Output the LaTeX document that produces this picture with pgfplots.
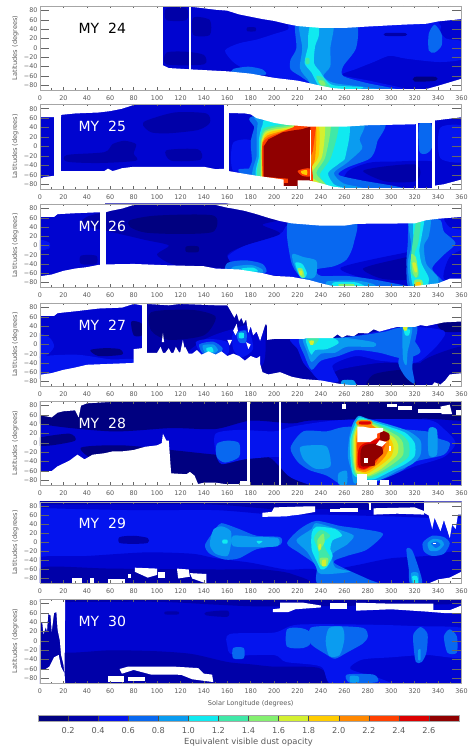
\documentclass[border=0pt]{standalone}
\usepackage{fontspec}
\setmainfont{DejaVu Sans}
\usepackage{pgfplots}
\pgfplotsset{compat=1.18}
\definecolor{L00}{HTML}{000080}
\definecolor{L0}{HTML}{0000A8}
\definecolor{L1}{HTML}{0004D0}
\definecolor{L2}{HTML}{0414EE}
\definecolor{L3}{HTML}{0868F0}
\definecolor{L4}{HTML}{0A9CF0}
\definecolor{L5}{HTML}{10EAF0}
\definecolor{L6}{HTML}{40E8A8}
\definecolor{L7}{HTML}{84F070}
\definecolor{L8}{HTML}{D4F030}
\definecolor{L9}{HTML}{FFCC00}
\definecolor{L10}{HTML}{FF8800}
\definecolor{L11}{HTML}{FF4000}
\definecolor{L12}{HTML}{DC0000}
\definecolor{L13}{HTML}{900000}
\definecolor{txt}{HTML}{5A5A5A}
\newcommand{\Q}[2]{\addplot[draw=none,fill=#1,forget plot,smooth cycle,tension=0.45] coordinates {#2};}
\newcommand{\W}[1]{\addplot[draw=none,fill=white,forget plot] coordinates {#1} --cycle;}
\newcommand{\R}[5]{\addplot[draw=none,fill=#1,forget plot] coordinates {(#2,#4)(#3,#4)(#3,#5)(#2,#5)} --cycle;}
\pgfplotsset{panel/.style={scale only axis,width=421.5pt,xmin=0,xmax=360,ymin=-90,ymax=90,axis on top,
 anchor=south west,axis line style={gray!70,line width=0.8pt},
 xtick={0,20,...,360},xticklabels={0,20,40,60,80,100,120,140,160,180,200,220,240,260,280,300,320,340,360},
 ytick={-80,-60,...,80},yticklabels={−80,−60,−40,−20,0,20,40,60,80},
 minor x tick num=1,
 tick align=inside,tick style={color=gray!80!black,line width=0.5pt},
 xtick style={/pgfplots/major tick length=2.5pt},minor tick length=1.5pt,
 ytick style={/pgfplots/major tick length=9pt},
 tick label style={font=\fontsize{6.4}{7}\selectfont,text=txt},
 xticklabel style={yshift=-2.5pt},yticklabel style={xshift=1pt},
 ylabel={Latitudes (degrees)},ylabel style={font=\fontsize{6.6}{7}\selectfont,text=txt,at={(axis description cs:0,0.5)},yshift=18pt,anchor=south},
 clip=true}}
\newcommand{\MY}[3]{\node[anchor=west,font=\fontsize{14}{15}\selectfont,text=#2] at (axis cs:30,#1) {#3}}
\begin{document}
\begin{tikzpicture}[x=1pt,y=1pt]
\useasboundingbox (0,0) rectangle (467,748);
% ------------- MY 24
\begin{axis}[panel,at={(40pt,658pt)},height=84pt]
\R{L1}{0}{360}{-90}{90}
\Q{L2}{(158,-5)(170,10)(185,18)(200,30)(212,40)(218,60)(300,70)(340,60)(342,35)(347,20)(360,15)(370,-5)(360,-25)(340,-30)(310,-22)(298,-17)(285,-30)(270,-45)(258,-58)(285,-72)(320,-95)(250,-95)(220,-72)(200,-66)(190,-52)(175,-45)(165,-30)}
\Q{L3}{(165,-45)(178,-40)(190,-46)(192,-58)(165,-56)}
\Q{L3}{(332,30)(337,50)(343,30)(343,5)(337,-10)(332,-5)}
\Q{L3}{(219,60)(245,65)(270,55)(270,0)(259,-39)(259,-60)(279,-75)(308,-92)(245,-95)(231,-75)(222,-60)(214,-46)(214,-25)(219,0)}
\Q{L4}{(222,60)(250,60)(248,0)(248,-39)(242,-60)(251,-75)(279,-84)(302,-95)(239,-95)(229,-68)(222,-43)(224,0)}
\Q{L5}{(231,50)(238,50)(238,25)(235,4)(234,-32)(239,-50)(244,-68)(251,-80)(276,-84)(268,-90)(251,-90)(239,-84)(232,-53)(226,-32)(229,4)(229,25)}
\Q{L6}{(236,-60)(241,-62)(245,-75)(248,-85)(242,-85)(238,-75)}
\Q{L6}{(227,-22)(230,-22)(230,-34)(227,-34)}
\Q{L7}{(238,-70)(242,-70)(244,-80)(240,-80)}
\Q{L0}{(108,85)(125,85)(125,60)(108,60)}
\Q{L0}{(108,-10)(125,-8)(140,-15)(140,-35)(108,-35)}
\Q{L0}{(131,65)(145,60)(145,28)(131,28)}
\Q{L0}{(177,44)(184,44)(184,36)(177,36)}
\Q{L0}{(295,32)(312,32)(312,26)(295,26)}
\Q{L1}{(259,-57)(275,-48)(299,-18)(322,-30)(360,-35)(370,-50)(360,-72)(340,-74)(320,-70)(290,-68)(275,-62)}
\Q{L00}{(320,-62)(338,-62)(338,-70)(320,-72)}
\Q{L1}{(340,65)(365,70)(365,20)(347,25)(345,38)}
\R{white}{0}{105}{-90}{90}
\R{white}{127}{129}{-90}{90}
\W{(105,91)(105,88)(130,88)(137,86)(150,82)(160,80)(170,72)(180,67)(190,62)(200,58)(210,52)(220,47)(240,43)(260,43)(280,46)(310,50)(330,52)(340,57)(360,62)(361,91)}
\W{(105,-91)(105,-37)(110,-43)(130,-46)(160,-50)(180,-55)(200,-64)(220,-70)(240,-81)(250,-86)(260,-88)(330,-88)(340,-81)(360,-66)(361,-91)}
\MY{42}{black}{MY~~24};
\end{axis}
% ------------- MY 25
\begin{axis}[panel,at={(40pt,559pt)},height=85pt]
\R{L1}{0}{161}{-90}{90}
\R{L1}{161}{200}{-90}{90}
\R{L2}{200}{360}{-90}{90}
\Q{L0}{(91,55)(115,72)(142,70)(145,50)(135,35)(110,28)(95,30)(88,45)}
\Q{L0}{(23,-18)(55,-12)(62,5)(72,12)(82,5)(80,-15)(82,-30)(50,-35)(23,-32)}
\Q{L0}{(108,-8)(135,-6)(137,-28)(112,-30)}
\Q{L2}{(165,8)(183,10)(188,-55)(165,-52)}
\Q{L3}{(170,-48)(185,-48)(187,-60)(172,-58)}
\Q{L1}{(262,-55)(280,-35)(300,-32)(340,-35)(340,-100)(262,-100)}
\Q{L0}{(276,-52)(295,-42)(320,-38)(325,-55)(320,-74)(295,-74)}
\R{L1}{337}{360}{-90}{90}
\Q{L2}{(342,40)(365,40)(365,-30)(342,-25)}
\Q{L3}{(324,48)(334,48)(335,0)(330,-15)(324,-10)}
\Q{L3}{(180,-72)(181,-30)(180,10)(183,40)(185,65)(290,60)(288,10)(285,-15)(280,-28)(262,-45)(255,-60)(275,-72)(310,-88)(290,-98)(240,-98)}
\Q{L4}{(184,-72)(185,-20)(185,20)(186,50)(188,65)(273,60)(273,15)(275,-5)(262,-35)(251,-56)(259,-78)(276,-88)(270,-98)(240,-98)}
\Q{L5}{(187,-72)(187,-20)(187,15)(190,45)(197,60)(261,60)(261,-20)(256,-35)(246,-56)(251,-80)(259,-88)(255,-98)(240,-98)}
\Q{L6}{(188,-72)(188,-20)(188,15)(191,38)(200,44)(215,50)(254,60)(249,-20)(239,-60)(246,-85)(250,-98)(240,-98)}
\Q{L7}{(188.5,-72)(188.5,-20)(189,15)(192,33)(200,40)(212,44)(247,60)(244,-20)(236,-56)(244,-80)(246,-98)(188.5,-80)}
\Q{L8}{(189,-72)(189,-20)(189.5,12)(192.5,30)(200,36)(215,42)(242,60)(241,-20)(231,-60)(239,-78)(238,-98)(189,-80)}
\Q{L9}{(189.5,-72)(189.5,-20)(190,10)(193,26)(200,33)(218,40)(237,60)(238,-20)(229,-50)(232,-70)(232,-98)(189.5,-80)}
\Q{L10}{(190,-72)(190,-20)(190,9)(194,23)(204,31)(218,39)(235,50)(235,-25)(231,-50)(231,-85)(190,-85)}
\Q{L11}{(190.4,-72)(190.4,8)(206,30)(222,45)(235,45)(235,30)(233,-10)(231,-25)(231,-85)(190.4,-85)}
\addplot[draw=none,fill=L13,forget plot] coordinates {(191,-64)(191,0)(195,15)(207,30)(216,34)(224,37)(231,42)(231,-75)(211,-68)} --cycle;
\R{L13}{212}{220}{-83}{-60}
\R{L13}{208}{214}{-83}{-78}
\Q{L11}{(220,-52)(226,-47)(231,-47)(231,-63)(224,-62)}
\Q{L9}{(223,-52)(228,-50)(228,-60)(224,-58)}
\Q{L11}{(217,38)(224,37)(226,44)(218,46)}
\R{white}{12}{18}{-90}{90}
\R{white}{157}{161}{-90}{90}
\R{white}{321}{323}{-90}{90}
\R{white}{335}{337}{-90}{90}
\R{white}{230.8}{231.6}{-70}{35}
\W{(-1,91)(-1,62)(12,62)(18,62)(18,67)(30,70)(50,72)(60,75)(70,80)(80,88)(157,88)(161,71)(175,70)(180,68)(185,60)(190,57)(200,50)(210,46)(230,42)(260,42)(280,45)(320,47)(323,50)(335,50)(337,55)(360,62)(361,91)}
\W{(-1,-91)(-1,-70)(3,-65)(12,-62)(18,-52)(55,-52)(58,-47)(62,-52)(65,-50)(70,-46)(80,-43)(140,-43)(150,-48)(158,-47)(161,-52)(175,-58)(185,-62)(208,-70)(208,-84)(220,-84)(220,-72)(230,-72)(240,-78)(250,-85)(260,-88)(335,-88)(337,-83)(345,-80)(360,-70)(361,-91)}
\MY{42}{white}{MY~~25};
\end{axis}
% ------------- MY 26
\begin{axis}[panel,at={(40pt,461pt)},height=83pt]
\R{L1}{0}{360}{-90}{90}
\Q{L2}{(0,12)(8,6)(8,-6)(0,-10)}
\Q{L2}{(160,-25)(175,0)(205,25)(212,45)(240,60)(370,65)(370,-100)(240,-100)(215,-70)(190,-62)(165,-55)}
\Q{L0}{(60,78)(40,62)(35,45)(60,30)(90,12)(110,0)(100,-20)(115,-42)(150,-48)(165,-50)(160,-20)(175,0)(205,25)(190,45)(205,60)(150,95)(60,95)}
\Q{L0}{(35,-22)(48,-22)(48,-40)(35,-40)}
\Q{L00}{(77,55)(100,65)(148,65)(148,30)(120,25)(90,28)(77,40)}
\Q{L00}{(125,-2)(135,-2)(135,-14)(125,-14)}
\Q{L1}{(257,-48)(311,-16)(318,-16)(318,-90)(302,-95)(279,-74)}
\Q{L0}{(276,-50)(305,-30)(316,-28)(316,-72)(292,-72)}
\Q{L1}{(345,65)(365,62)(365,35)(350,40)}
\Q{L1}{(350,-25)(365,-10)(365,-78)(345,-72)}
\Q{L3}{(160,-38)(175,-32)(190,-40)(192,-60)(160,-60)}
\Q{L4}{(165,-46)(180,-42)(190,-52)(188,-60)(165,-55)}
\Q{L5}{(172,-50)(182,-48)(186,-56)(175,-57)}
\Q{L3}{(214,60)(268,60)(268,5)(262,-30)(251,-45)(236,-52)(240,-66)(262,-66)(290,-76)(320,-95)(240,-95)(222,-67)(214,-30)}
\Q{L4}{(216,-18)(225,-25)(236,-33)(236,-62)(232,-72)(222,-66)(216,-35)}
\Q{L4}{(245,-78)(270,-76)(285,-84)(285,-95)(250,-95)}
\Q{L5}{(218,-38)(224,-40)(228,-60)(226,-70)(222,-68)}
\Q{L5}{(251,-80)(270,-80)(278,-92)(252,-92)}
\Q{L7}{(255,-84)(268,-84)(268,-92)(258,-92)}
\Q{L7}{(220,-50)(224,-50)(226,-68)(223,-68)}
\Q{L8}{(221,-55)(224,-55)(224,-64)(222,-64)}
\Q{L3}{(316,60)(330,60)(342,55)(345,30)(355,5)(345,-20)(335,-50)(345,-80)(345,-95)(316,-95)(313,-40)(314,0)}
\Q{L4}{(315,60)(333,60)(332,20)(328,0)(330,-40)(340,-70)(338,-95)(318,-95)(314,-40)(317,0)}
\Q{L5}{(319,60)(328,60)(326,20)(324,-10)(326,-40)(332,-70)(330,-90)(319,-90)(316,-40)(319,-5)}
\Q{L6}{(321,48)(325,48)(323,5)(320,-20)(324,-60)(322,-70)(317,-60)(317,-20)}
\Q{L7}{(317,-20)(321,-25)(323,-60)(321,-70)(318,-55)}
\Q{L8}{(318,-38)(321,-38)(322,-57)(320,-57)}
\Q{L7}{(320,-75)(326,-75)(327,-92)(320,-92)}
\Q{L9}{(321,-80)(325,-80)(325,-92)(321,-92)}
\R{white}{51}{56}{-90}{90}
\W{(-1,91)(-1,62)(12,62)(15,68)(30,70)(50,72)(56,72)(60,75)(70,80)(80,88)(150,88)(160,82)(165,80)(175,75)(185,68)(195,60)(205,53)(215,48)(240,43)(260,43)(270,47)(320,48)(330,55)(340,58)(360,62)(361,91)}
\W{(-1,-91)(-1,-67)(10,-63)(20,-55)(30,-50)(40,-47)(50,-42)(56,-41)(80,-40)(110,-43)(140,-45)(150,-50)(170,-52)(190,-60)(200,-66)(215,-68)(230,-75)(240,-82)(250,-88)(320,-88)(340,-82)(350,-72)(361,-72)(361,-91)}
\MY{42}{white}{MY~~26};
\end{axis}
% ------------- MY 27
\begin{axis}[panel,at={(40pt,362pt)},height=83pt]
\R{L1}{0}{91}{-90}{90}
\R{L0}{91}{360}{-90}{90}
\Q{L2}{(-5,25)(8,15)(12,-5)(5,-25)(-5,-25)}
\Q{L2}{(-5,-30)(30,-22)(60,-32)(80,-32)(85,-50)(40,-60)(-5,-75)}
\Q{L00}{(43,-12)(55,-8)(68,-10)(70,-22)(50,-25)}
\Q{L00}{(78,50)(87,45)(87,20)(80,20)}
\Q{L00}{(95,70)(130,75)(150,60)(140,20)(110,10)(95,30)}
\Q{L1}{(125,-25)(140,10)(160,30)(190,45)(190,-45)(160,-35)}
\Q{L2}{(133,5)(145,12)(160,5)(160,-22)(140,-25)}
\Q{L3}{(136,0)(148,6)(156,-8)(152,-22)(140,-22)}
\Q{L4}{(139,-2)(148,0)(152,-12)(148,-20)(141,-18)}
\Q{L5}{(142,-8)(147,-6)(148,-16)(143,-16)}
\Q{L2}{(165,25)(178,30)(182,-10)(172,-28)(165,-10)}
\Q{L3}{(168,25)(176,30)(176,5)(170,5)}
\Q{L5}{(170,25)(174,25)(174,14)(170,14)}
\Q{L1}{(215,14)(260,15)(310,40)(345,50)(365,52)(365,-30)(345,-20)(325,-40)(290,-40)(255,-55)(245,-75)(235,-70)(228,-40)(222,-10)}
\Q{L00}{(285,-65)(310,-55)(318,-70)(320,-95)(280,-95)}
\Q{L00}{(340,48)(365,52)(365,30)(345,28)}
\Q{L0}{(325,-40)(345,-15)(365,-5)(365,-60)(345,-85)(325,-88)}
\Q{L2}{(215,14)(260,15)(310,38)(345,30)(340,0)(325,-35)(315,-40)(290,-35)(270,-25)(250,-45)(255,-80)(240,-80)(232,-60)(225,-40)(220,-10)}
\Q{L3}{(222,14)(252,14)(275,20)(295,28)(310,35)(325,-15)(310,-30)(290,-18)(270,-12)(255,-25)(240,-35)(232,-55)(226,-25)}
\Q{L4}{(225,16)(248,14)(262,14)(285,5)(285,-5)(262,-5)(252,-18)(240,-20)(232,-38)(228,-15)}
\Q{L5}{(228,16)(250,14)(255,3)(245,-10)(235,-12)(232,-22)(229,-8)}
\Q{L6}{(228,13)(238,13)(236,3)(232,-2)}
\Q{L8}{(230,8)(234,8)(233,-1)(231,-1)}
\Q{L3}{(308,40)(322,40)(320,0)(318,-50)(320,-85)(312,-70)(306,-40)(310,0)}
\Q{L4}{(310,40)(318,40)(316,5)(314,-15)(313,-45)(310,-30)}
\Q{L5}{(311,32)(316,32)(315,20)(312,20)}
\Q{L8}{(310,38)(314,38)(313,30)(311,30)}
\Q{L4}{(258,-78)(268,-78)(270,-95)(258,-95)}
\R{white}{80}{91}{-90}{-10}
\R{white}{87}{91}{-90}{90}
\W{(-1,91)(-1,62)(12,62)(15,68)(30,72)(50,78)(70,80)(80,88)(87,85)(87,91)}
\W{(91,91)(91,88)(110,85)(120,88)(150,85)(160,85)(163,72)(166,58)(168,68)(170,50)(172,58)(174,45)(176,55)(178,25)(180,40)(182,20)(185,28)(188,8)(192,40)(193,45)(194,40)(194,10)(200,12)(225,12)(228,14)(250,14)(254,22)(258,15)(262,20)(268,18)(272,25)(280,24)(285,33)(290,28)(300,35)(305,38)(320,38)(325,42)(330,40)(345,48)(361,50)(361,91)}
\W{(-1,-91)(-1,-66)(10,-62)(20,-55)(30,-50)(40,-44)(80,-40)(80,-10)(87,-8)(91,-18)(100,-18)(103,-5)(105,-18)(107,-18)(110,-8)(112,-18)(114,-18)(116,-5)(119,-18)(124,-5)(127,-20)(130,-20)(134,-12)(138,-22)(144,-15)(150,-22)(155,-15)(160,-25)(165,-20)(170,-25)(175,-35)(180,-25)(185,-30)(188,-25)(188,-42)(190,-60)(195,-65)(205,-60)(215,-70)(225,-75)(240,-78)(255,-85)(265,-88)(335,-88)(337,-82)(342,-87)(346,-78)(350,-65)(361,-62)(361,-91)}
\W{(120,-15)(122,10)(124,-15)}
\W{(104,5)(105,25)(106,5)}
\W{(165,30)(167,20)(169,30)(168,45)}
\W{(176,5)(178,-10)(180,0)}
\W{(160,10)(162,-2)(164,10)}
\MY{42}{white}{MY~~27};
\end{axis}
% ------------- MY 28
\begin{axis}[panel,at={(40pt,263pt)},height=84pt]
\R{L1}{0}{360}{-90}{90}
\Q{L00}{(-5,95)(365,95)(365,50)(330,52)(265,50)(230,48)(215,42)(180,48)(150,30)(112,32)(60,25)(-5,45)}
\Q{L00}{(35,-10)(70,-5)(112,-15)(150,-25)(175,-28)(195,-30)(205,-52)(215,-75)(235,-95)(112,-95)(100,-60)(50,-40)}
\Q{L00}{(-3,10)(25,20)(30,5)(10,-5)(-3,-5)}
\Q{L2}{(150,20)(170,28)(200,25)(215,35)(240,45)(265,50)(330,50)(345,30)(355,0)(345,-30)(320,-50)(300,-70)(280,-95)(240,-95)(215,-75)(205,-50)(205,-30)(175,-35)(155,-45)(150,-20)}
\Q{L3}{(151,-2)(160,5)(170,0)(170,-30)(158,-42)(151,-30)}
\Q{L3}{(214,-10)(225,25)(245,25)(265,35)(330,25)(340,10)(350,0)(345,-25)(320,-40)(310,-58)(295,-75)(270,-90)(258,-90)(245,-70)(230,-58)(220,-40)}
\Q{L4}{(222,-10)(230,-5)(245,-8)(248,-50)(235,-55)(225,-35)}
\Q{L4}{(332,30)(339,28)(339,-25)(332,-25)}
\Q{L4}{(255,-65)(262,-60)(262,-88)(255,-88)}
\Q{L4}{(266,-60)(263,-30)(264,10)(267,40)(272,58)(280,52)(300,38)(315,25)(325,5)(325,-25)(318,-45)(305,-60)(290,-80)(275,-88)(268,-85)}
\Q{L5}{(267,-65)(265,-30)(265,10)(269,40)(273,55)(283,47)(298,35)(312,22)(320,0)(320,-28)(312,-45)(300,-60)(285,-78)(272,-75)}
\Q{L6}{(268,-65)(266,-30)(266,10)(270,38)(274,52)(285,44)(297,32)(309,18)(315,0)(315,-28)(307,-45)(296,-60)(282,-76)(272,-72)}
\Q{L7}{(269,-62)(267,-30)(267,10)(270,36)(275,48)(286,40)(296,28)(306,14)(310,0)(310,-26)(302,-44)(292,-60)(281,-72)(272,-70)}
\Q{L8}{(269.5,-60)(268,-30)(268,10)(271,34)(276,46)(287,36)(295,24)(303,10)(306,-5)(305,-25)(298,-42)(290,-58)(280,-70)(272,-66)}
\Q{L9}{(270,-58)(269,-30)(269,10)(271,32)(277,47)(287,32)(294,20)(300,6)(302,-10)(300,-28)(294,-42)(286,-56)(279,-66)(273,-62)}
\Q{L10}{(270,-56)(270,-30)(270,8)(272,30)(277,47)(288,30)(293,16)(298,4)(298,-12)(295,-28)(290,-42)(284,-54)(278,-62)(273,-60)}
\Q{L11}{(271,-52)(271,-20)(272,5)(290,26)(296,12)(294,-10)(291,-25)(287,-42)(282,-52)(276,-58)}
\Q{L12}{(272,-50)(272,-15)(276,-2)(290,10)(294,25)(298,15)(295,5)(292,-10)(289,-25)(285,-42)(278,-55)}
\Q{L13}{(274,-48)(274,-15)(278,-4)(290,-2)(293,-22)(286,-38)(286,-48)(278,-50)}
\Q{L13}{(291,26)(298,20)(298,6)(291,6)}
\Q{L10}{(271,48)(283,48)(283,38)(271,38)}
\Q{L12}{(273,46)(282,46)(282,40)(273,40)}
\W{(271,35)(276,35)(282,32)(293,32)(293,25)(288,20)(288,12)(282,2)(271,2)}
\W{(290,6)(296,2)(292,-8)(287,-4)}
\R{white}{298}{300}{-6}{-18}
\R{white}{277}{280}{-32}{-42}
\R{white}{177}{179}{-90}{90}
\R{white}{204}{206}{-90}{90}
\R{white}{171}{178}{-90}{-82}
\R{white}{296}{305}{77}{84}
\R{white}{306}{318}{70}{79}
\R{white}{323}{345}{65}{73}
\W{(342,78)(350,82)(352,62)(343,62)}
\R{white}{258}{261}{73}{84}
\R{white}{355}{360}{58}{70}
\R{white}{271}{279}{-90}{-67}
\R{white}{279}{288}{-90}{-80}
\R{white}{290}{298}{-90}{-80}
\W{(-1,91)(-1,60)(10,55)(15,65)(20,68)(30,70)(33,55)(35,80)(40,85)(60,88)(100,88)(112,90)}
\W{(-1,-91)(-1,-62)(10,-60)(15,-50)(25,-38)(32,-25)(38,-35)(45,-25)(55,-22)(62,-18)(70,-18)(80,-15)(90,-8)(100,-5)(104,0)(105,20)(108,5)(110,5)(112,-65)(125,-67)(128,-62)(132,-70)(135,-88)(140,-85)(150,-85)(158,-88)(171,-88)(171,-91)}
\MY{42}{white}{MY~~28};
\end{axis}
% ------------- MY 29
\begin{axis}[panel,at={(40pt,165pt)},height=81pt]
\R{L2}{0}{360}{-90}{90}
\Q{L1}{(-5,95)(365,95)(365,55)(300,58)(240,62)(200,62)(150,72)(80,72)(-5,78)}
\Q{L0}{(-5,95)(365,95)(365,72)(240,74)(200,74)(140,85)(-5,85)}
\Q{L1}{(-5,-35)(40,-30)(90,-22)(130,-25)(150,-35)(180,-45)(210,-60)(235,-60)(240,-95)(-5,-95)}
\Q{L0}{(3,-55)(60,-58)(150,-60)(190,-60)(215,-70)(220,-95)(3,-95)}
\Q{L0}{(68,12)(80,15)(92,10)(92,-1)(80,-3)(68,-1)}
\Q{L1}{(275,-48)(300,-35)(330,-30)(365,-20)(365,-95)(290,-95)(270,-70)(255,-60)}
\Q{L3}{(141,-5)(150,30)(155,43)(170,30)(185,15)(205,12)(205,-5)(185,-15)(170,-35)(158,-38)(145,-25)}
\Q{L4}{(145,-5)(148,28)(155,36)(163,25)(163,-5)(160,-30)(150,-25)}
\Q{L4}{(165,15)(185,12)(203,10)(203,-8)(185,-10)(165,-8)}
\Q{L5}{(156,6)(160,6)(160,-2)(156,-2)}
\Q{L5}{(185,3)(190,3)(187,-3)}
\Q{L3}{(211,-2)(222,30)(236,48)(256,37)(275,30)(293,19)(279,-16)(262,-30)(251,-45)(279,-80)(290,-95)(239,-95)(236,-52)(222,-24)}
\Q{L4}{(219,5)(232,30)(236,43)(256,28)(268,15)(262,-5)(250,-25)(252,-55)(265,-65)(240,-70)(235,-50)(228,-20)}
\Q{L5}{(232,20)(236,35)(252,30)(258,15)(250,5)(248,-15)(250,-30)(245,-55)(240,-60)(236,-40)(232,-15)}
\Q{L6}{(234,10)(240,28)(248,15)(242,0)(245,-20)(248,-35)(243,-55)(238,-45)(238,-20)}
\Q{L7}{(237,5)(242,20)(243,0)(240,-12)(238,-20)}
\Q{L7}{(239,-35)(246,-35)(245,-52)(240,-50)}
\Q{L8}{(241,-40)(244,-38)(244,-52)(241,-52)}
\Q{L8}{(238,-5)(240,-3)(240,-16)(238,-14)}
\Q{L3}{(313,-15)(318,-18)(325,-70)(326,-92)(316,-92)(315,-60)}
\Q{L4}{(317,-68)(323,-68)(323,-92)(318,-92)}
\Q{L5}{(318,-75)(322,-75)(323,-90)(319,-90)}
\Q{L3}{(327,0)(335,15)(345,12)(350,-2)(345,-25)(335,-30)(328,-20)}
\Q{L4}{(331,-2)(336,8)(343,5)(345,-5)(340,-18)(333,-18)}
\Q{L3}{(334,-2)(339,2)(342,-5)(338,-12)}
\R{white}{336}{338}{-4}{-2}
\W{(190,57)(190,66)(198,68)(200,78)(225,80)(235,80)(235,68)(222,62)(215,60)(210,58)}
\R{white}{248}{258}{68}{74}
\R{white}{256}{272}{68}{76}
\R{white}{281}{283}{73}{91}
\W{(285,62)(285,76)(320,78)(328,70)(328,62)(305,64)}
\W{(328,91)(328,66)(332,60)(335,30)(337,55)(342,25)(345,50)(350,10)(352,40)(355,30)(357,62)(361,62)(361,91)}
\R{white}{27}{36}{-91}{-78}
\R{white}{43}{46}{-91}{-80}
\R{white}{58}{73}{-91}{-82}
\R{white}{75}{78}{-78}{-70}
\W{(81,-56)(100,-58)(100,-72)(92,-78)(81,-65)}
\R{white}{101}{107}{-78}{-66}
\W{(117,-58)(127,-60)(128,-76)(118,-80)}
\W{(128,-68)(142,-70)(142,-91)(130,-80)}
\W{(332,-91)(340,-82)(350,-78)(360,-65)(361,-91)}
\MY{42}{white}{MY~~29};
\end{axis}
% ------------- MY 30
\begin{axis}[panel,at={(40pt,65pt)},height=84pt,xlabel={Solar Longitude (degrees)},xlabel style={font=\fontsize{6.6}{7}\selectfont,text=txt,yshift=0pt}]
\R{L1}{0}{360}{-90}{90}
\Q{L0}{(-5,95)(365,95)(365,80)(200,74)(150,78)(100,84)(-5,84)}
\Q{L0}{(107,63)(118,63)(118,57)(107,57)}
\Q{L0}{(142,62)(160,65)(160,52)(142,55)}
\Q{L0}{(-5,-10)(22,-25)(60,-20)(100,-22)(130,-28)(160,-45)(180,-50)(200,-55)(225,-55)(240,-60)(240,-95)(-5,-95)}
\R{L0}{0}{21}{-90}{60}
\Q{L2}{(160,-10)(162,15)(200,18)(220,35)(280,35)(320,32)(365,25)(365,-35)(330,-30)(300,-35)(275,-40)(265,-60)(290,-80)(300,-95)(250,-95)(240,-55)(210,-45)(200,-30)(165,-30)}
\Q{L3}{(211,25)(222,28)(230,20)(231,-5)(225,-15)(211,-12)}
\Q{L3}{(231,28)(250,32)(276,28)(280,10)(276,-5)(262,-25)(252,-38)(244,-28)(231,-5)}
\Q{L4}{(247,28)(258,30)(260,5)(256,-30)(247,-32)(244,0)}
\Q{L3}{(319,15)(325,30)(331,15)(330,-25)(326,-45)(321,-45)(319,-10)}
\Q{L4}{(323,-20)(325,-18)(325,-40)(323,-40)}
\Q{L3}{(345,10)(350,25)(356,10)(356,-25)(348,-25)}
\Q{L3}{(165,-15)(174,-15)(174,-37)(165,-37)}
\Q{L3}{(262,-72)(285,-72)(288,-88)(265,-90)}
\Q{L4}{(265,-75)(272,-76)(272,-88)(265,-88)}
\Q{L1}{(345,-60)(347,-60)(347,-88)(345,-88)}
\W{(-1,91)(-1,40)(2,38)(3,15)(5,30)(6,20)(7,58)(9,55)(10,20)(12,60)(14,62)(15,25)(17,0)(18,-30)(20,-50)(21,-70)(21.5,91)}
\W{(-1,-91)(-1,-60)(5,-60)(8,-55)(12,-35)(16,-30)(18,-55)(21,-70)(21.5,-91)}
\W{(199,62)(199,68)(205,70)(205,82)(225,82)(240,76)(240,72)(218,68)(212,62)}
\R{white}{248}{262}{68}{82}
\W{(270,65)(270,82)(300,80)(336,80)(336,62)(300,68)}
\W{(335,66)(350,66)(360,76)(361,60)(345,60)(335,62)}
\W{(68,-60)(75,-55)(115,-55)(135,-58)(140,-70)(147,-72)(148,-88)(130,-82)(120,-72)(95,-72)(80,-62)(70,-70)}
\R{white}{58}{72}{-88}{-75}
\R{white}{75}{90}{-86}{-78}
\R{white}{118}{122}{-72}{-68}
\MY{42}{white}{MY~~30};
\end{axis}
% ------------- colour bar
\begin{axis}[scale only axis,at={(38pt,27pt)},anchor=south west,width=421pt,height=6pt,xmin=0,xmax=2.8,ymin=0,ymax=1,
 ytick=\empty,xtick={0.2,0.4,0.6,0.8,1.0,1.2,1.4,1.6,1.8,2.0,2.2,2.4,2.6},
 xticklabels={0.2,0.4,0.6,0.8,1.0,1.2,1.4,1.6,1.8,2.0,2.2,2.4,2.6},
 axis on top,axis line style={gray!70,line width=0.6pt},tick align=inside,major tick length=6pt,tick style={black!70,line width=0.4pt},
 xtick pos=bottom,
 tick label style={font=\fontsize{8.2}{9}\selectfont,text=txt},xticklabel style={yshift=-2.5pt},
 xlabel={Equivalent visible dust opacity},xlabel style={font=\fontsize{8.4}{9}\selectfont,text=txt,yshift=2pt}]
\R{L00}{0}{0.2}{0}{1}\R{L0}{0.2}{0.4}{0}{1}\R{L2}{0.4}{0.6}{0}{1}\R{L3}{0.6}{0.8}{0}{1}
\R{L4}{0.8}{1.0}{0}{1}\R{L5}{1.0}{1.2}{0}{1}\R{L6}{1.2}{1.4}{0}{1}\R{L7}{1.4}{1.6}{0}{1}
\R{L8}{1.6}{1.8}{0}{1}\R{L9}{1.8}{2.0}{0}{1}\R{L10}{2.0}{2.2}{0}{1}\R{L11}{2.2}{2.4}{0}{1}
\R{L12}{2.4}{2.6}{0}{1}\R{L13}{2.6}{2.8}{0}{1}
\end{axis}
\end{tikzpicture}
\end{document}
